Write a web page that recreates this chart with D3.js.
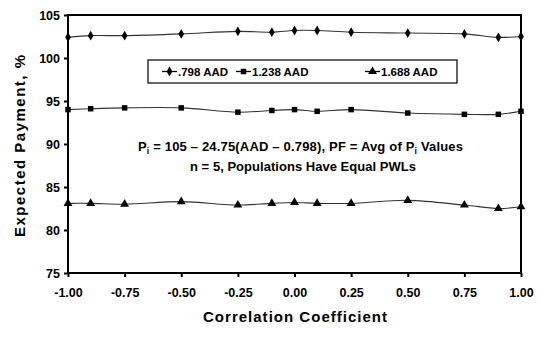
<!DOCTYPE html>
<html>
<head>
<meta charset="utf-8">
<script src="https://cdn.jsdelivr.net/npm/d3@7"></script>
<style>
  html, body { margin: 0; padding: 0; background: #fff; }
  svg { display: block; font-family: "Liberation Sans", Arial, sans-serif; font-weight: bold; }
</style>
</head>
<body>
<svg id="chart" width="550" height="338"></svg>
<script>
// Correlation coefficients sampled along the x axis
const correlation = [-1.00, -0.90, -0.75, -0.50, -0.25, -0.10, 0.00, 0.10, 0.25, 0.50, 0.75, 0.90, 1.00];

// Expected payment (%) for each AAD level
const aad798  = [102.4, 102.6, 102.6, 102.8, 103.1, 103.0, 103.2, 103.2, 103.0, 102.9, 102.8, 102.4, 102.5];
const aad1238 = [94.0, 94.1, 94.2, 94.2, 93.7, 93.9, 94.0, 93.8, 94.0, 93.6, 93.45, 93.45, 93.8];
const aad1688 = [83.1, 83.1, 83.0, 83.3, 82.9, 83.1, 83.2, 83.1, 83.1, 83.45, 82.9, 82.5, 82.7];

const seriesNames = [".798 AAD", "1.238 AAD", "1.688 AAD"];
const xTicks = [-1.00, -0.75, -0.50, -0.25, 0.00, 0.25, 0.50, 0.75, 1.00];
const yTicks = [75, 80, 85, 90, 95, 100, 105];

const svg = d3.select("#chart");
const W = 550, H = 338;
const m = { left: 68, right: 29, top: 15, bottom: 65 };

const x = d3.scaleLinear().domain([-1, 1]).range([m.left, W - m.right]);
const y = d3.scaleLinear().domain([75, 105]).range([H - m.bottom, m.top]);

const symbols = [d3.symbolDiamond, d3.symbolSquare, d3.symbolTriangle];
const symSizes = [28, 30, 34];
const series = [aad798, aad1238, aad1688];

// Axes (plain hyphen for negative tick labels)
const fmt2 = d3.format(".2f");
const xAxis = d3.axisBottom(x).tickValues(xTicks).tickSize(4).tickPadding(9)
  .tickFormat(d => fmt2(d).replace("\u2212", "-"));
const yAxis = d3.axisLeft(y).tickValues(yTicks).tickSize(4).tickPadding(4);

const gx = svg.append("g").attr("transform", `translate(0,${H - m.bottom})`).call(xAxis);
const gy = svg.append("g").attr("transform", `translate(${m.left},0)`).call(yAxis);
[gx, gy].forEach(g => {
  g.select(".domain").remove();
  g.selectAll(".tick line").attr("stroke", "#000").attr("stroke-width", 2);
  g.selectAll(".tick text").attr("fill", "#000").style("font-size", "12.5px").style("font-weight", "bold")
    .style("font-family", "'Liberation Sans', Arial, sans-serif");
});
gx.selectAll(".tick text").attr("dy", "0.9em");

// Plot frame
svg.append("rect")
  .attr("x", m.left).attr("y", m.top)
  .attr("width", W - m.left - m.right).attr("height", H - m.top - m.bottom)
  .attr("fill", "none").attr("stroke", "#000").attr("stroke-width", 2);

// Series lines with markers
const line = d3.line()
  .x((d, i) => x(correlation[i]))
  .y(d => y(d))
  .curve(d3.curveCatmullRom.alpha(0.5));

series.forEach((vals, s) => {
  svg.append("path")
    .datum(vals)
    .attr("d", line)
    .attr("fill", "none")
    .attr("stroke", "#333")
    .attr("stroke-width", 1.1);
  svg.append("g").selectAll("path")
    .data(vals)
    .join("path")
    .attr("transform", (d, i) => `translate(${x(correlation[i])},${y(d)})`)
    .attr("d", d3.symbol().type(symbols[s]).size(symSizes[s]))
    .attr("fill", "#000");
});

// Legend
const legend = svg.append("g");
legend.append("rect")
  .attr("x", 148).attr("y", 60).attr("width", 309).attr("height", 23)
  .attr("fill", "#fff").attr("stroke", "#000").attr("stroke-width", 1.2);
const legX = [162, 236, 365];
seriesNames.forEach((name, s) => {
  const lx = legX[s];
  legend.append("line")
    .attr("x1", lx).attr("x2", lx + 15).attr("y1", 71.5).attr("y2", 71.5)
    .attr("stroke", "#000").attr("stroke-width", 1.3);
  legend.append("path")
    .attr("transform", `translate(${lx + 7.5},71.5)`)
    .attr("d", d3.symbol().type(symbols[s]).size(symSizes[s]))
    .attr("fill", "#000");
  legend.append("text")
    .attr("x", lx + 16).attr("y", 75.5)
    .style("font-size", "11.5px")
    .text(name);
});

// Formula annotation
const note = svg.append("g").style("font-size", "13px");
const t1 = note.append("text").attr("x", 138).attr("y", 151)
  .attr("textLength", 325).attr("lengthAdjust", "spacing");
t1.append("tspan").text("P");
t1.append("tspan").attr("dy", 3).style("font-size", "8.5px").text("i");
t1.append("tspan").attr("dy", -3).text(" = 105 \u2013 24.75(AAD \u2013 0.798), PF = Avg of P");
t1.append("tspan").attr("dy", 3).style("font-size", "8.5px").text("i");
t1.append("tspan").attr("dy", -3).text(" Values");
note.append("text").attr("x", 190).attr("y", 171)
  .attr("textLength", 226).attr("lengthAdjust", "spacing")
  .text("n = 5, Populations Have Equal PWLs");

// Axis titles
svg.append("text")
  .attr("x", 203).attr("y", 322)
  .attr("textLength", 184).attr("lengthAdjust", "spacing")
  .style("font-size", "15px")
  .text("Correlation Coefficient");
svg.append("text")
  .attr("transform", "translate(25,237) rotate(-90)")
  .attr("textLength", 182).attr("lengthAdjust", "spacing")
  .style("font-size", "15px")
  .text("Expected Payment, %");
</script>
</body>
</html>
